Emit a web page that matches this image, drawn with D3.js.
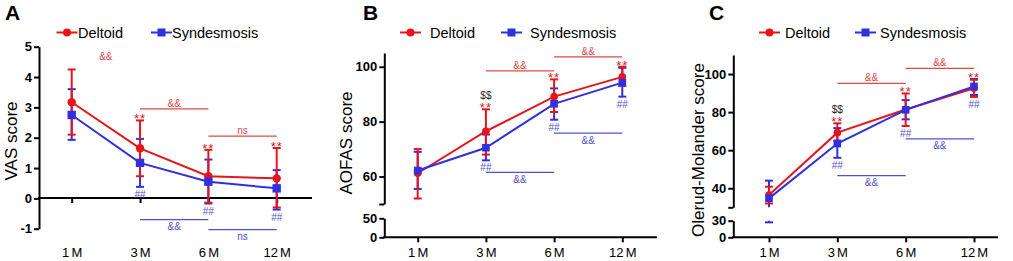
<!DOCTYPE html>
<html>
<head>
<meta charset="utf-8">
<script src="https://cdn.jsdelivr.net/npm/d3@7"></script>
<style>
  body { margin: 0; background: #fff; }
  text { font-family: "Liberation Sans", Arial, sans-serif; }
</style>
</head>
<body>
<div id="chart"></div>
<script>
// ---- data ----
const months = ["1 M", "3 M", "6 M", "12 M"];

// A: VAS score (mean, lower / upper error)
const vasDeltoid   = [3.17, 1.65, 0.73, 0.66];
const vasDeltoidLo = [2.10, 0.73, -0.14, -0.30];
const vasDeltoidHi = [4.25, 2.57, 1.60, 1.66];
const vasSyn   = [2.75, 1.17, 0.55, 0.33];
const vasSynLo = [1.93, 0.38, -0.17, -0.37];
const vasSynHi = [3.60, 1.96, 1.28, 0.93];

// B: AOFAS score
const aofasDeltoid   = [61.2, 76.5, 89.1, 96.3];
const aofasDeltoidLo = [52.0, 68.0, 83.5, 93.0];
const aofasDeltoidHi = [70.0, 84.5, 95.4, 100.0];
const aofasSyn   = [62.2, 70.5, 86.5, 94.2];
const aofasSynLo = [55.5, 65.9, 80.7, 89.1];
const aofasSynHi = [69.0, 75.3, 92.1, 99.6];

// C: Olerud-Molander score
const omsDeltoid   = [36.5, 69.2, 81.4, 92.5];
const omsDeltoidLo = [32.0, 65.0, 72.7, 88.0];
const omsDeltoidHi = [40.8, 74.1, 89.8, 97.0];
const omsSyn   = [34.7, 63.5, 81.2, 93.5];
const omsSynLo = [27.0, 56.0, 76.2, 89.0];
const omsSynHi = [44.0, 71.6, 86.3, 97.4];

// significance marks per time point
const starsDeltoid = ["", "**", "**", "**"];
const hashSyn = ["", "##", "##", "##"];
const dollarsA = ["", "", "", ""];
const dollarsBC = ["", "$$", "", ""];

// comparison brackets: [from, to, value, label, line drawn]
const vasRedBrackets  = [["1 M", "3 M", 4.5, "&&", false], ["3 M", "6 M", 2.95, "&&", true], ["6 M", "12 M", 2.05, "ns", true]];
const vasBlueBrackets = [["3 M", "6 M", -0.70, "&&", true], ["6 M", "12 M", -1.03, "ns", true]];
const aofasRedBrackets  = [["3 M", "6 M", 98.5, "&&", true], ["6 M", "12 M", 103.6, "&&", true]];
const aofasBlueBrackets = [["3 M", "6 M", 61.5, "&&", true], ["6 M", "12 M", 75.8, "&&", true]];
const omsRedBrackets  = [["3 M", "6 M", 95.1, "&&", true], ["6 M", "12 M", 103.0, "&&", true]];
const omsBlueBrackets = [["3 M", "6 M", 46.6, "&&", true], ["6 M", "12 M", 65.9, "&&", true]];

const RED = "#e8141c", BLUE = "#3030e0";
const RED_TXT = "#e04848", BLUE_TXT = "#5050d0";

const svg = d3.select("#chart")
  .append("svg")
    .attr("width", 1013)
    .attr("height", 261);

function drawPanel(p) {
  const g = svg.append("g");

  const x = d3.scalePoint().domain(months).range(p.xRange);
  const yUp = d3.scaleLinear().domain(p.upDomain).range(p.upRange);
  const yLow = p.loDomain ? d3.scaleLinear().domain(p.loDomain).range(p.loRange) : null;
  const brk = p.upDomain[0];
  const y = v => (yLow && v < brk) ? yLow(v) : yUp(v);

  // y axes
  const styleAxis = sel => {
    sel.attr("font-size", 13).attr("font-weight", "bold")
       .attr("font-family", "'Liberation Sans', Arial, sans-serif");
    sel.selectAll("path, line").attr("stroke", "#000").attr("stroke-width", 2);
    sel.selectAll("text").attr("fill", "#000");
  };
  g.append("g")
    .attr("transform", `translate(${p.axisX},0)`)
    .call(d3.axisLeft(yUp).tickValues(p.upTicks).tickSize(5).tickSizeOuter(0).tickPadding(2)
      .tickFormat(d => p.upLabels.includes(d) ? d : ""))
    .call(styleAxis);
  if (yLow) {
    g.append("g")
      .attr("transform", `translate(${p.axisX},0)`)
      .call(d3.axisLeft(yLow).tickValues(p.loTicks).tickSize(5).tickSizeOuter(0).tickPadding(2))
      .call(styleAxis);
  }

  // x axis
  const xAxisY = p.xAxisY;
  const xa = g.append("g")
    .attr("transform", `translate(0,${xAxisY})`)
    .call(d3.axisBottom(x).tickSize(5).tickSizeOuter(0));
  xa.select(".domain").remove();
  xa.selectAll("line").attr("stroke", "#000").attr("stroke-width", 2);
  xa.selectAll("text")
    .attr("y", 257 - xAxisY).attr("dy", 0)
    .attr("font-size", 13).attr("word-spacing", "-1.5px")
    .attr("font-family", "'Liberation Sans', Arial, sans-serif")
    .attr("fill", "#000");
  g.append("line")
    .attr("x1", p.axisX - 1).attr("x2", p.xEnd)
    .attr("y1", xAxisY).attr("y2", xAxisY)
    .attr("stroke", "#000").attr("stroke-width", 2);

  // axis title & panel letter
  g.append("text")
    .attr("transform", `translate(${p.titleX},${p.titleY}) rotate(-90)`)
    .attr("text-anchor", "middle")
    .attr("dominant-baseline", "central")
    .attr("font-size", 17)
    .text(p.title);
  g.append("text")
    .attr("x", p.letterX).attr("y", 20)
    .attr("font-size", 21).attr("font-weight", "bold")
    .text(p.letter);

  // error bars (split across the axis break when needed)
  function errorBars(lo, hi, color) {
    months.forEach((m, i) => {
      const cx = x(m);
      const segs = (yLow && lo[i] < brk)
        ? [[y(hi[i]), yUp(brk)], [yLow(brk), yLow(lo[i])]]
        : [[y(hi[i]), y(lo[i])]];
      segs.forEach(([a, b]) => {
        g.append("line")
          .attr("x1", cx).attr("x2", cx)
          .attr("y1", a).attr("y2", b)
          .attr("stroke", color).attr("stroke-width", 2);
      });
      [lo[i], hi[i]].forEach(v => {
        g.append("line")
          .attr("x1", cx - p.cap).attr("x2", cx + p.cap)
          .attr("y1", y(v)).attr("y2", y(v))
          .attr("stroke", color).attr("stroke-width", 2);
      });
    });
  }
  errorBars(p.synLo, p.synHi, BLUE);
  errorBars(p.delLo, p.delHi, RED);

  const line = d3.line().x((d, i) => x(months[i])).y(d => y(d));
  g.append("path").datum(p.del).attr("d", line)
    .attr("fill", "none").attr("stroke", RED).attr("stroke-width", 2);
  g.append("path").datum(p.syn).attr("d", line)
    .attr("fill", "none").attr("stroke", BLUE).attr("stroke-width", 2);

  g.selectAll(".dot").data(p.del).enter().append("circle")
    .attr("cx", (d, i) => x(months[i])).attr("cy", d => y(d))
    .attr("r", p.r).attr("fill", RED);
  g.selectAll(".sq").data(p.syn).enter().append("rect")
    .attr("x", (d, i) => x(months[i]) - p.r).attr("y", d => y(d) - p.r)
    .attr("width", p.r * 2).attr("height", p.r * 2).attr("fill", BLUE);

  // significance marks
  months.forEach((m, i) => {
    const top = Math.min(y(p.delHi[i]), y(p.synHi[i]));
    const bottom = Math.max(y(p.delLo[i]), y(p.synLo[i]));
    if (starsDeltoid[i]) {
      g.append("text").attr("x", x(m)).attr("y", top + 3)
        .attr("text-anchor", "middle").attr("font-size", 13)
        .attr("fill", RED).attr("letter-spacing", "1px").text(starsDeltoid[i]);
    }
    if (p.dollars[i]) {
      g.append("text").attr("x", x(m)).attr("y", top - 10)
        .attr("text-anchor", "middle").attr("font-size", 10)
        .attr("fill", "#222").text(p.dollars[i]);
    }
    if (hashSyn[i]) {
      g.append("text").attr("x", x(m)).attr("y", bottom + 11)
        .attr("text-anchor", "middle").attr("font-size", 10)
        .attr("fill", BLUE_TXT).text(hashSyn[i]);
    }
  });

  function brackets(list, color, txtColor, above) {
    list.forEach(([a, b, v, label, drawLine]) => {
      const yy = y(v);
      if (drawLine) {
        g.append("line")
          .attr("x1", x(a)).attr("x2", x(b))
          .attr("y1", yy).attr("y2", yy)
          .attr("stroke", color).attr("stroke-width", 1.2);
      }
      g.append("text")
        .attr("x", (x(a) + x(b)) / 2).attr("y", above ? yy - 5.5 : yy + 7)
        .attr("text-anchor", "middle").attr("dominant-baseline", "central")
        .attr("font-size", 10).attr("fill", txtColor).text(label);
    });
  }
  brackets(p.redBr, RED_TXT, RED_TXT, true);
  brackets(p.blueBr, BLUE_TXT, BLUE_TXT, false);

  // legend
  const ly = 32.5;
  const lg = g.append("g");
  lg.append("line").attr("x1", p.leg[0]).attr("x2", p.leg[0] + 21).attr("y1", ly).attr("y2", ly)
    .attr("stroke", RED).attr("stroke-width", 2);
  lg.append("circle").attr("cx", p.leg[0] + 10.5).attr("cy", ly).attr("r", 4).attr("fill", RED);
  lg.append("text").attr("x", p.leg[1]).attr("y", ly).attr("dominant-baseline", "central")
    .attr("font-size", 14.5).text("Deltoid");
  lg.append("line").attr("x1", p.leg[2]).attr("x2", p.leg[2] + 21).attr("y1", ly).attr("y2", ly)
    .attr("stroke", BLUE).attr("stroke-width", 2);
  lg.append("rect").attr("x", p.leg[2] + 6.5).attr("y", ly - 4).attr("width", 8).attr("height", 8).attr("fill", BLUE);
  lg.append("text").attr("x", p.leg[3]).attr("y", ly).attr("dominant-baseline", "central")
    .attr("font-size", 14.5).text("Syndesmosis");
}

drawPanel({
  letter: "A", letterX: 5, title: "VAS score", titleX: 11, titleY: 141,
  xRange: [71.7, 276.7], axisX: 39, xEnd: 312,
  upDomain: [-1, 5], upRange: [228.7, 46.7], upTicks: [-1, 0, 1, 2, 3, 4, 5], upLabels: [-1, 0, 1, 2, 3, 4, 5],
  xAxisY: 198, r: 4.2, cap: 4,
  del: vasDeltoid, delLo: vasDeltoidLo, delHi: vasDeltoidHi,
  syn: vasSyn, synLo: vasSynLo, synHi: vasSynHi,
  dollars: dollarsA, redBr: vasRedBrackets, blueBr: vasBlueBrackets,
  leg: [56.5, 78, 151, 172]
});

drawPanel({
  letter: "B", letterX: 363, title: "AOFAS score", titleX: 346, titleY: 143,
  xRange: [417.7, 622.3], axisX: 384.3, xEnd: 657,
  upDomain: [50, 105], upRange: [204, 53], upTicks: [50, 60, 80, 100], upLabels: [60, 80, 100],
  loDomain: [0, 50], loRange: [237.3, 218.3], loTicks: [0, 50],
  xAxisY: 237.3, r: 3.8, cap: 4,
  del: aofasDeltoid, delLo: aofasDeltoidLo, delHi: aofasDeltoidHi,
  syn: aofasSyn, synLo: aofasSynLo, synHi: aofasSynHi,
  dollars: dollarsBC, redBr: aofasRedBrackets, blueBr: aofasBlueBrackets,
  leg: [400, 430, 501, 530]
});

drawPanel({
  letter: "C", letterX: 709, title: "Olerud-Molander score", titleX: 698, titleY: 150,
  xRange: [769, 974], axisX: 733.3, xEnd: 998,
  upDomain: [30, 110], upRange: [207.3, 55], upTicks: [30, 40, 60, 80, 100], upLabels: [40, 60, 80, 100],
  loDomain: [0, 30], loRange: [237.3, 220.7], loTicks: [0, 30],
  xAxisY: 237.3, r: 3.8, cap: 4,
  del: omsDeltoid, delLo: omsDeltoidLo, delHi: omsDeltoidHi,
  syn: omsSyn, synLo: omsSynLo, synHi: omsSynHi,
  dollars: dollarsBC, redBr: omsRedBrackets, blueBr: omsBlueBrackets,
  leg: [759, 785, 855, 880]
});
</script>
</body>
</html>
